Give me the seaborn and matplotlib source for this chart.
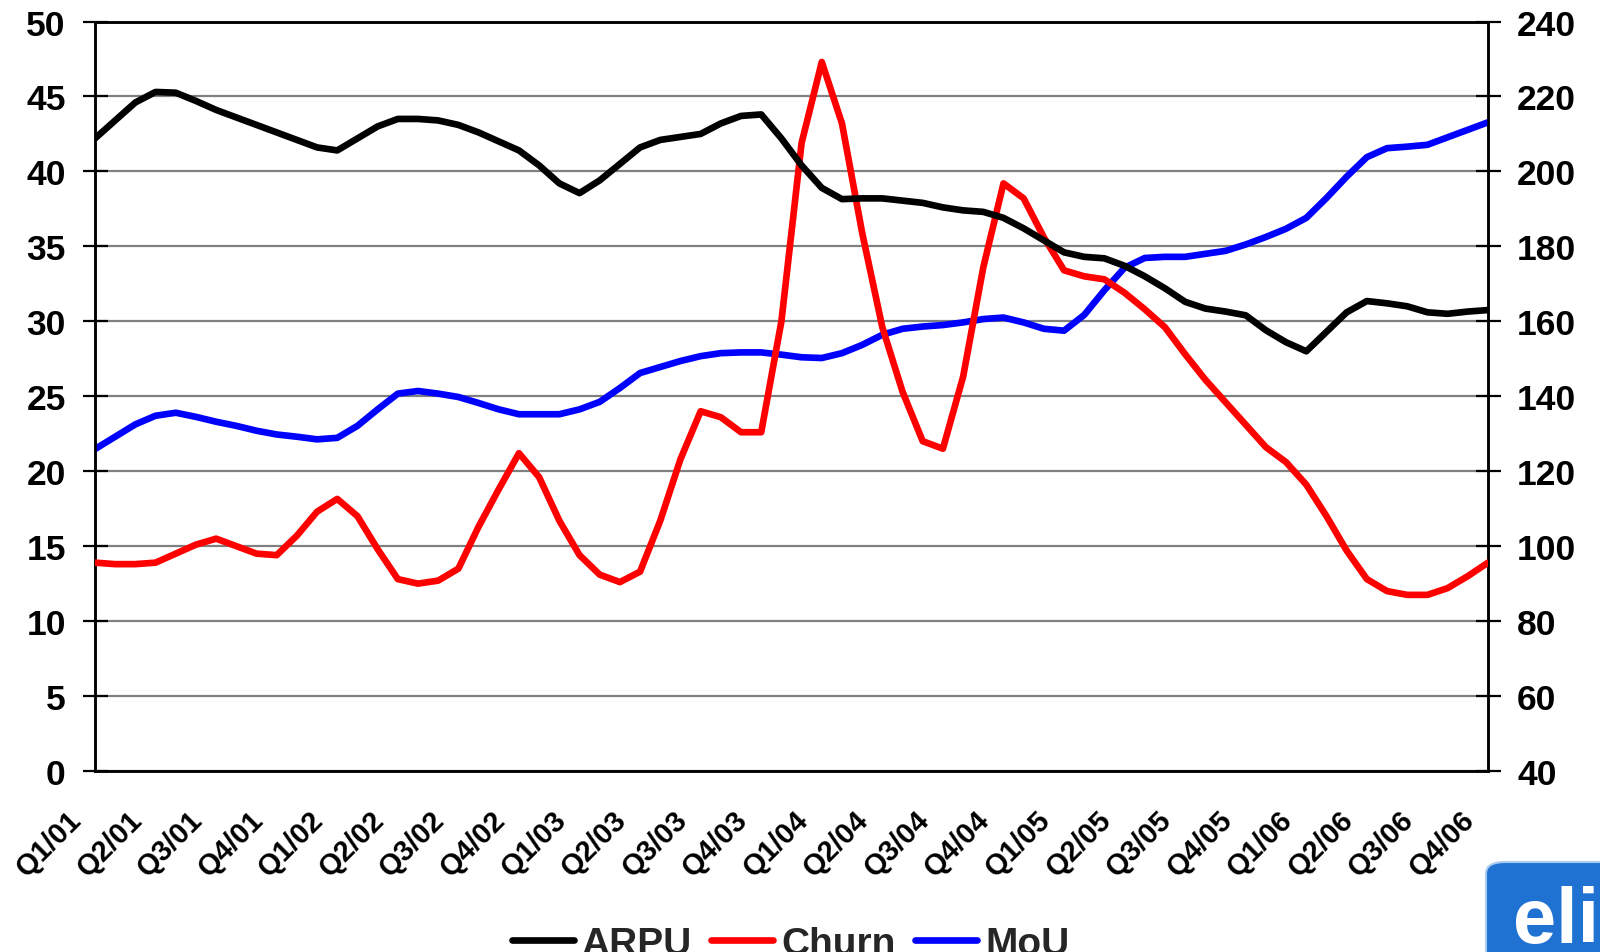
import numpy as np
import pandas as pd
import matplotlib
matplotlib.use("Agg")
import matplotlib.pyplot as plt
import matplotlib.transforms as mtransforms
from matplotlib.patches import FancyBboxPatch
from matplotlib.lines import Line2D
import seaborn as sns

# ---- data (monthly values, Q1/01 .. Q4/06) ----
quarters = ["Q1/01", "Q2/01", "Q3/01", "Q4/01", "Q1/02", "Q2/02", "Q3/02", "Q4/02",
            "Q1/03", "Q2/03", "Q3/03", "Q4/03", "Q1/04", "Q2/04", "Q3/04", "Q4/04",
            "Q1/05", "Q2/05", "Q3/05", "Q4/05", "Q1/06", "Q2/06", "Q3/06", "Q4/06"]

arpu = [42.2, 43.4, 44.6, 45.3, 45.25, 44.7, 44.1, 43.6, 43.1, 42.6, 42.1, 41.6,
        41.4, 42.2, 43.0, 43.5, 43.5, 43.4, 43.1, 42.6, 42.0, 41.4, 40.4, 39.2,
        38.55, 39.4, 40.5, 41.6, 42.1, 42.3, 42.5, 43.2, 43.7, 43.8, 42.2, 40.4,
        38.9, 38.15, 38.2, 38.2, 38.05, 37.9, 37.6, 37.4, 37.3, 36.9, 36.2, 35.4,
        34.6, 34.3, 34.2, 33.7, 33.0, 32.2, 31.3, 30.85, 30.65, 30.4, 29.4, 28.6,
        28.0, 29.3, 30.6, 31.35, 31.2, 31.0, 30.6, 30.5, 30.65, 30.75]

churn = [13.9, 13.8, 13.8, 13.9, 14.5, 15.1, 15.5, 15.0, 14.5, 14.4, 15.7, 17.3,
         18.15, 17.0, 14.8, 12.8, 12.5, 12.7, 13.5, 16.3, 18.8, 21.2, 19.6, 16.7,
         14.4, 13.1, 12.6, 13.3, 16.7, 20.8, 24.0, 23.6, 22.6, 22.6, 30.0, 41.9,
         47.3, 43.2, 35.9, 29.6, 25.3, 22.0, 21.5, 26.3, 33.6, 39.2, 38.2, 35.6,
         33.4, 33.0, 32.8, 31.9, 30.8, 29.6, 27.8, 26.1, 24.6, 23.1, 21.6, 20.6,
         19.1, 17.0, 14.7, 12.8, 12.0, 11.75, 11.75, 12.2, 13.0, 13.9]

mou = [125.9, 129.2, 132.5, 134.8, 135.6, 134.5, 133.2, 132.1, 130.8, 129.8, 129.2, 128.5,
       128.9, 132.1, 136.5, 140.7, 141.4, 140.7, 139.8, 138.2, 136.5, 135.2, 135.2, 135.2,
       136.5, 138.5, 142.2, 146.2, 147.8, 149.4, 150.7, 151.5, 151.7, 151.7, 151.1, 150.4,
       150.2, 151.5, 153.7, 156.4, 158.0, 158.6, 159.0, 159.7, 160.6, 161.0, 159.7, 158.0,
       157.5, 161.7, 168.3, 174.3, 176.9, 177.2, 177.2, 178.0, 178.8, 180.5, 182.5, 184.7,
       187.6, 192.9, 198.6, 203.8, 206.2, 206.6, 207.1, 209.1, 211.1, 213.1]

left_ticks = [0, 5, 10, 15, 20, 25, 30, 35, 40, 45, 50]
right_ticks = [40, 60, 80, 100, 120, 140, 160, 180, 200, 220, 240]

df = pd.DataFrame({"month": np.arange(len(arpu)), "ARPU": arpu, "Churn": churn, "MoU": mou})

# ---- style ----
sns.set_style("white")
plt.rcParams["font.family"] = ["Liberation Sans", "DejaVu Sans"]
plt.rcParams["font.weight"] = "bold"

W, H = 1600, 953
fig = plt.figure(figsize=(16, 9.53), dpi=100)
x0, x1, y0, y1 = 95, 1488, 22.5, 772
ax = fig.add_axes([x0 / W, 1 - y1 / H, (x1 - x0) / W, (y1 - y0) / H])
ax2 = ax.twinx()

ax.set_zorder(ax2.get_zorder() + 1)
ax.patch.set_visible(False)

lw = 4.8
sns.lineplot(data=df, x="month", y="ARPU", ax=ax, color="black", lw=lw, zorder=5)
sns.lineplot(data=df, x="month", y="Churn", ax=ax, color="#ff0000", lw=lw, zorder=4)
sns.lineplot(data=df, x="month", y="MoU", ax=ax2, color="#0000ff", lw=lw, zorder=3)

ax.set_xlim(0, len(arpu) - 1)
ax.set_ylim(0, 50)
ax2.set_ylim(40, 240)
ax.set_xticks(np.arange(0, len(arpu), 3))
ax.set_xticklabels(quarters, rotation=45, ha="right", va="bottom",
                   rotation_mode="anchor", fontsize=21, fontweight="bold")
ax.set_yticks(left_ticks)
ax.set_yticklabels([str(t) for t in left_ticks], fontsize=25.5, fontweight="bold")
ax2.set_yticks(right_ticks)
ax2.set_yticklabels([str(t) for t in right_ticks], fontsize=25.5, fontweight="bold")
ax.set_xlabel("")
ax.set_ylabel("")
ax2.set_ylabel("")

# grid (drawn on ax2 so it lies beneath all lines)
ax2.grid(axis="y", color="#808080", lw=1.6, zorder=0)
ax.grid(False)
ax2.set_axisbelow(True)

for a in (ax, ax2):
    for s in a.spines.values():
        s.set_color("black")
        s.set_linewidth(1.8)
ax.tick_params(axis="x", direction="inout", length=16, width=1.6, pad=31, colors="black")
ax.tick_params(axis="y", direction="inout", length=18, width=1.6, pad=12, colors="black")
ax2.tick_params(axis="y", direction="inout", length=18, width=1.6, pad=12, colors="black")
ax2.tick_params(axis="x", which="both", length=0)

# nudge rotated x labels slightly left (after tick_params, which resets transforms)
shift = mtransforms.ScaledTranslation(-8 / 100, 0, fig.dpi_scale_trans)
for tick in ax.xaxis.get_major_ticks():
    tick.label1.set_transform(tick.label1.get_transform() + shift)

# legend
handles = [Line2D([], [], color="black", lw=lw),
           Line2D([], [], color="#ff0000", lw=lw),
           Line2D([], [], color="#0000ff", lw=lw)]
fig.legend(handles, ["ARPU", "Churn", "MoU"], loc="center", ncol=3,
           bbox_to_anchor=(0.494, 1 - 945 / H), frameon=False,
           prop={"size": 28, "weight": "bold"}, handlelength=1.6,
           handletextpad=0.2, columnspacing=0.5)

# logo (partially visible)
logo = FancyBboxPatch((1486 / W, -0.05), 0.2, (953 - 863) / H + 0.05,
                      boxstyle="round,pad=0,rounding_size=0.012",
                      transform=fig.transFigure, facecolor="#1f72d2",
                      edgecolor="#a9cdf2", lw=1.5, zorder=10)
fig.patches.append(logo)
fig.text(1513 / W, 1 - 943 / H, "elisa", color="white", fontsize=56,
         fontweight="bold", ha="left", va="baseline", zorder=11)

fig.savefig("out.png", dpi=100)
